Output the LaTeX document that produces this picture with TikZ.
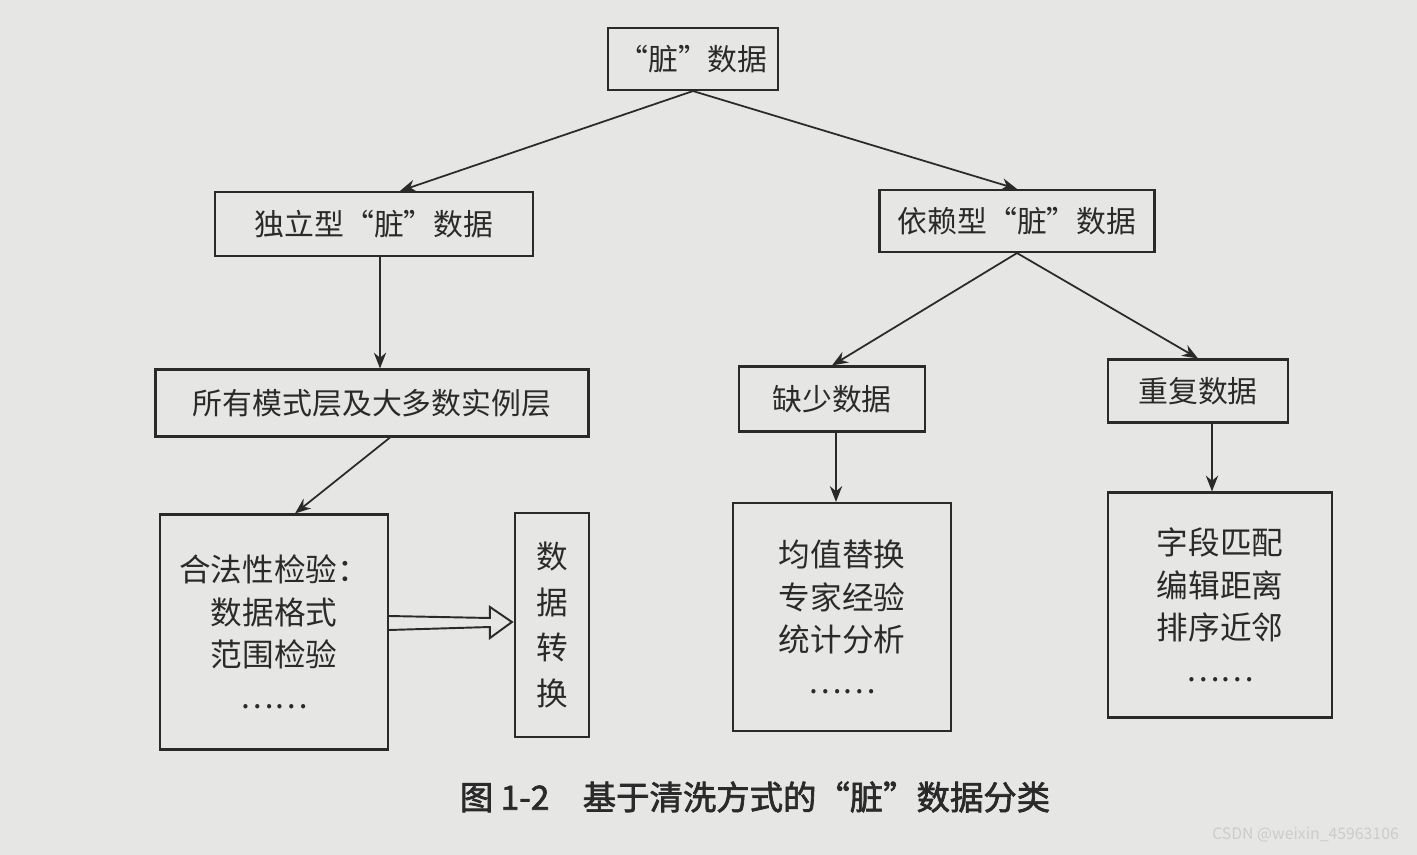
\documentclass[tikz,border=0pt]{standalone}
\usepackage{fontspec}
\setmainfont{Noto Sans CJK SC}[AutoFakeBold=2]
\usetikzlibrary{arrows.meta,calc}
\definecolor{bg}{HTML}{E6E6E4}
\definecolor{ink}{HTML}{2A2A2A}
\begin{document}
\begin{tikzpicture}[x=0.02cm,y=-0.02cm,
  box/.style={draw=ink,line width=1.2pt,fill=bg,text=ink,font=\fontsize{17}{22}\selectfont,inner sep=0pt,align=center},
  arr/.style={draw=ink,line width=1pt,-{Stealth[length=9pt,width=7pt]}}]
\fill[bg] (0,0) rectangle (1417,855);
\node[box,minimum width=170*0.02cm,minimum height=62*0.02cm] (top) at (693,59) {“脏”数据};
\node[box,minimum width=318*0.02cm,minimum height=64*0.02cm] (l1) at (374,224) {独立型“脏”数据};
\node[box,minimum width=275*0.02cm,minimum height=62*0.02cm] (r1) at (1017,221) {依赖型“脏”数据};
\node[box,minimum width=433*0.02cm,minimum height=67*0.02cm] (l2) at (372,403) {所有模式层及大多数实例层};
\node[box,minimum width=186*0.02cm,minimum height=65*0.02cm] (miss) at (832,399) {缺少数据};
\node[box,minimum width=180*0.02cm,minimum height=63*0.02cm] (dup) at (1198,391) {重复数据};
\node[box,minimum width=228*0.02cm,minimum height=235*0.02cm,font=\fontsize{18}{24}\selectfont] (big) at (274,632) {合法性检验：\\数据格式\\范围检验\\……};
\node[box,minimum width=74*0.02cm,minimum height=224*0.02cm,font=\fontsize{18}{26}\selectfont] (tr) at (552,625) {数\\据\\转\\换};
\node[box,minimum width=218*0.02cm,minimum height=228*0.02cm,font=\fontsize{18}{24}\selectfont] (mm) at (842,617) {均值替换\\专家经验\\统计分析\\……};
\node[box,minimum width=224*0.02cm,minimum height=225*0.02cm,font=\fontsize{18}{24}\selectfont] (dm) at (1220,605) {字段匹配\\编辑距离\\排序近邻\\……};
\draw[arr] (top.south) -- ($(l1.north)+(26,0)$);
\draw[arr] (top.south) -- (r1.north);
\draw[arr] ($(l1.south)+(6,0)$) -- ($(l2.north)+(8,0)$);
\draw[arr] ($(l2.south)+(18,0)$) -- ($(big.north)+(21,0)$);
\draw[arr] (r1.south) -- (miss.north);
\draw[arr] (r1.south) -- (dup.north);
\draw[arr] ($(miss.south)+(4,0)$) -- ($(mm.north)+(-6,0)$);
\draw[arr] ($(dup.south)+(14,0)$) -- ($(dm.north)+(-8,0)$);
\draw[draw=ink,line width=1.1pt,line join=miter,fill=bg]
  ($(big.east)+(0,-16)$) -- ($(tr.west)+(-24,-7)$) -- ($(tr.west)+(-24,-18)$) -- ($(tr.west)+(-2,-3)$)
  -- ($(tr.west)+(-24,13)$) -- ($(tr.west)+(-24,2)$) -- ($(big.east)+(0,-2)$);
\node[text=ink,font=\fontsize{19}{22}\selectfont\bfseries] (cap) at (755,797) {图 1-2\quad 基于清洗方式的“脏”数据分类};
\node[text=white!60!gray,font=\fontsize{9}{11}\selectfont,anchor=east] (wm) at (1405,835) {CSDN @weixin\_45963106};
\end{tikzpicture}
\end{document}
